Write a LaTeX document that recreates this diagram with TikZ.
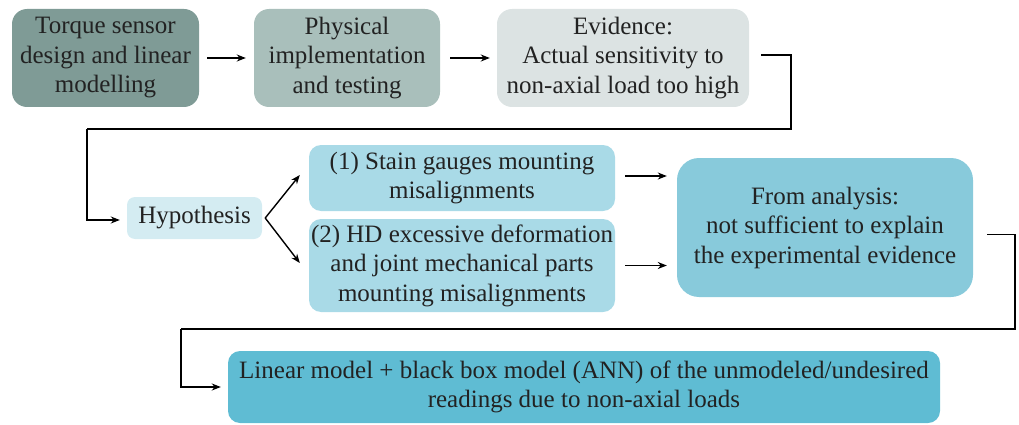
\documentclass[tikz,border=0pt]{standalone}
\usepackage{fontspec}
\setmainfont{Liberation Serif}
\newfontfamily\labelfont{Liberation Serif}
\usetikzlibrary{arrows.meta,calc}

\definecolor{cDesign}{HTML}{7F9B96}
\definecolor{cImpl}{HTML}{A9BFBB}
\definecolor{cEvid}{HTML}{DCE3E3}
\definecolor{cHyp}{HTML}{D4ECF2}
\definecolor{cCause}{HTML}{A9DAE7}
\definecolor{cAnal}{HTML}{88CADB}
\definecolor{cModel}{HTML}{5FBCD3}
\definecolor{cText}{HTML}{222222}

\tikzset{
  box/.style={rounded corners=15pt, inner sep=0pt, align=center, text=cText,
    font=\labelfont\fontsize{25}{29.5}\selectfont},
  arr/.style={-{Stealth[length=9pt,width=7pt]}, line width=1.4pt, black},
  link/.style={line width=1.4pt, black},
}

\begin{document}
\begin{tikzpicture}[x=1pt, y=-1pt]
\useasboundingbox (0,0) rectangle (1019,425);

% first row
\node[box, fill=cDesign, minimum width=187pt, minimum height=98pt] (design) at (105.5,58)
  {Torque sensor\\design and linear\\modelling};
\node[box, fill=cImpl, minimum width=186pt, minimum height=98pt] (impl) at (347,58)
  {Physical\\implementation\\and testing};
\node[box, fill=cEvid, minimum width=252pt, minimum height=98pt] (evid) at (623,58)
  {Evidence:\\Actual sensitivity to\\non-axial load too high};

% second row
\node[box, rounded corners=8pt, fill=cHyp, minimum width=135pt, minimum height=42pt] (hyp) at (194.5,218)
  {Hypothesis};
\node[box, rounded corners=12pt, fill=cCause, minimum width=306pt, minimum height=66pt] (gauge) at (462,178)
  {(1) Stain gauges mounting\\misalignments};
\node[box, rounded corners=12pt, fill=cCause, minimum width=306pt, minimum height=93pt] (hd) at (462,265.5)
  {(2) HD excessive deformation\\and joint mechanical parts\\mounting misalignments};
\node[box, rounded corners=22pt, fill=cAnal, minimum width=296pt, minimum height=139pt] (anal) at (825,227.5)
  {From analysis:\\not sufficient to explain\\the experimental evidence};

% third row
\node[box, rounded corners=12pt, fill=cModel, minimum width=712pt, minimum height=72pt] (model) at (584,387)
  {Linear model + black box model (ANN) of the unmodeled/undesired\\readings due to non-axial loads};

% bend points of the long connectors
\coordinate (r1) at (791,129);
\coordinate (l1) at (87,129);
\coordinate (r2) at (1015,329);
\coordinate (l2) at (181,329);

% connectors
\draw[arr] ([xshift=8pt]design.east) -- ([xshift=-8pt]impl.west);
\draw[arr] ([xshift=10pt]impl.east) -- ([xshift=-7pt]evid.west);
\draw[link] ([xshift=12pt,yshift=3pt]evid.east) -| (r1) -- (l1);
\draw[arr] (l1) |- ([xshift=-7pt,yshift=-2pt]hyp.west);

\draw[arr] ([xshift=3pt]hyp.east) -- ([xshift=-9pt,yshift=3pt]gauge.west);
\draw[arr] ([xshift=3pt]hyp.east) -- ([xshift=-9pt,yshift=2.5pt]hd.west);

\draw[arr] ([xshift=10pt,yshift=2pt]gauge.east) -- ([xshift=-10pt,yshift=2pt]gauge.east -| anal.west);
\draw[arr] ([xshift=10pt]hd.east) -- ([xshift=-10pt]hd.east -| anal.west);

\draw[link] ([xshift=14pt,yshift=-7pt]anal.east) -| (r2) -- (l2);
\draw[arr] (l2) |- ([xshift=-7pt]model.west);
\end{tikzpicture}
\end{document}
